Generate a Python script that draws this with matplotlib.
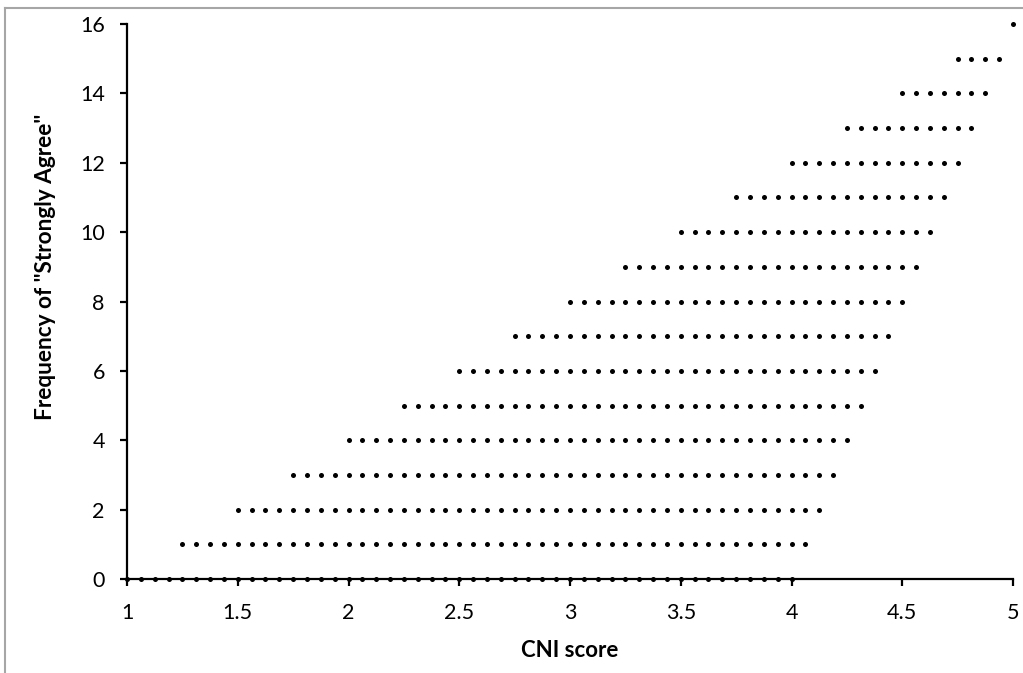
import matplotlib

matplotlib.use("Agg")
import matplotlib.pyplot as plt
import numpy as np

# ---------- data ---------- #
# one row of dots per "Strongly Agree" count, CNI scores step by 1/16
freq = list(range(17))
row_start = [1, 1.25, 1.5, 1.75, 2, 2.25, 2.5, 2.75, 3, 3.25, 3.5, 3.75, 4, 4.25, 4.5, 4.75, 5]
row_end = [4, 4.0625, 4.125, 4.1875, 4.25, 4.3125, 4.375, 4.4375, 4.5,
           4.5625, 4.625, 4.6875, 4.75, 4.8125, 4.875, 4.9375, 5]
score_step = 0.0625

x_ticks = [1, 1.5, 2, 2.5, 3, 3.5, 4, 4.5, 5]
x_labels = ["1", "1.5", "2", "2.5", "3", "3.5", "4", "4.5", "5"]
y_ticks = [0, 2, 4, 6, 8, 10, 12, 14, 16]

W, H = 1023, 673
plt.rcParams["font.family"] = ["Lato", "DejaVu Sans"]

fig = plt.figure(figsize=(W / 100, H / 100), dpi=100)
ax = fig.add_axes([127 / W, 1 - 579 / H, 886 / W, 555 / H])

xs, ys = [], []
for k, a, b in zip(freq, row_start, row_end):
    pts = np.arange(a, b + score_step / 2, score_step)
    xs.extend(pts)
    ys.extend([k] * len(pts))

ax.scatter(xs, ys, s=13, color="black", linewidths=0, zorder=3, clip_on=False)

ax.set_xlim(1, 5)
ax.set_ylim(0, 16)
ax.set_xticks(x_ticks)
ax.set_xticklabels(x_labels)
ax.set_yticks(y_ticks)

for side in ("top", "right"):
    ax.spines[side].set_visible(False)
for side in ("left", "bottom"):
    ax.spines[side].set_linewidth(1.6)
    ax.spines[side].set_color("black")

ax.tick_params(axis="both", direction="out", length=5, width=1.6,
               labelsize=15.5, colors="black")
ax.tick_params(axis="x", pad=12)
ax.tick_params(axis="y", pad=11)

# axis titles, placed where they sit in the original
fig.text(570 / W, 1 - 657 / H, "CNI score", fontsize=16, fontweight="bold",
         ha="center", va="baseline")
fig.text(46 / W, 1 - 267 / H, 'Frequency of "Strongly Agree"', fontsize=16.3,
         fontweight="bold", rotation=90, ha="center", va="center")

# thin grey frame that the chart sat in
fig.add_artist(plt.Line2D([5 / W, 5 / W], [0, 1 - 8 / H],
                          transform=fig.transFigure, color="#a6a6a6", lw=1.5))
fig.add_artist(plt.Line2D([5 / W, 1], [1 - 8 / H, 1 - 8 / H],
                          transform=fig.transFigure, color="#a6a6a6", lw=1.5))

fig.savefig("out.png", dpi=100)
